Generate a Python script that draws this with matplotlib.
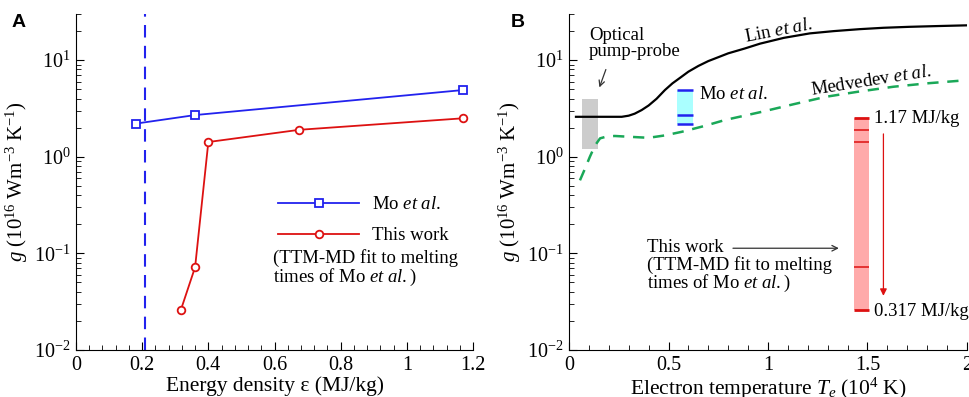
import matplotlib
matplotlib.use("Agg")
import matplotlib.pyplot as plt
from matplotlib.ticker import MultipleLocator, LogLocator, NullFormatter
import numpy as np

plt.rcParams['font.family'] = 'Liberation Serif'
plt.rcParams['mathtext.fontset'] = 'custom'
plt.rcParams['mathtext.rm'] = 'Liberation Serif'
plt.rcParams['mathtext.it'] = 'Liberation Serif:italic'

# ---------------- data ----------------
# panel A
mo_eps = [0.18, 0.36, 1.17]
mo_g = [2.2, 2.7, 4.9]
this_eps = [0.317, 0.36, 0.40, 0.675, 1.17]
this_g = [0.026, 0.072, 1.42, 1.9, 2.5]
eps_threshold = 0.21

# panel B
lin_T = [0.035, 0.1, 0.2, 0.265, 0.3, 0.33, 0.365, 0.4, 0.44, 0.482, 0.52, 0.56,
         0.6, 0.65, 0.7, 0.734, 0.8, 0.884, 0.96, 1.08, 1.21, 1.33, 1.46, 1.58,
         1.71, 1.85, 2.0]
lin_g = [2.59, 2.59, 2.59, 2.59, 2.66, 2.79, 3.04, 3.39, 3.98, 4.9, 5.75, 6.6,
         7.59, 8.7, 9.77, 10.4, 11.75, 13.2, 14.8, 17.0, 18.9, 19.95, 20.9, 21.6,
         22.1, 22.5, 22.9]
med_T = [0.055, 0.08, 0.105, 0.13, 0.156, 0.19, 0.23, 0.3, 0.4, 0.48, 0.566,
         0.68, 0.784, 0.97, 1.13, 1.29, 1.45, 1.63, 1.8, 2.0]
med_g = [0.57, 0.75, 1.0, 1.3, 1.55, 1.62, 1.64, 1.61, 1.57, 1.66, 1.81,
         2.08, 2.4, 2.92, 3.5, 4.17, 4.7, 5.3, 5.75, 6.2]

optical_T = [0.067, 0.148]
optical_g = [1.2, 4.0]
mo_box_T = [0.545, 0.625]
this_box_T = [1.43, 1.51]

blue = '#2222ee'
red = '#dd1111'
green = '#1aa858'

fig = plt.figure(figsize=(9.69, 3.97), dpi=100)
axA = fig.add_axes([76/969, 1-350/397, 397/969, 336/397])
axB = fig.add_axes([569/969, 1-350/397, 398/969, 336/397])

ylabel = r'$g$ (10$^{16}$ Wm$^{-3}$ K$^{-1}$)'


def style(ax, xmax, xminor):
    ax.set_yscale('log')
    ax.set_ylim(0.01, 30)
    ax.set_xlim(0, xmax)
    ax.xaxis.set_minor_locator(MultipleLocator(xminor))
    ax.yaxis.set_minor_locator(LogLocator(base=10, subs=np.arange(2, 10)))
    ax.yaxis.set_minor_formatter(NullFormatter())
    ax.spines['top'].set_visible(False)
    ax.spines['right'].set_visible(False)
    ax.tick_params(which='both', direction='in', labelsize=14.5, pad=4)
    ax.tick_params(which='major', length=6)
    ax.tick_params(which='minor', length=3.5)
    ax.set_ylabel(ylabel, fontsize=15)
    ax.yaxis.set_label_coords(-0.115, 0.5)


# ---------------- panel A ----------------
style(axA, 1.2, 0.04)
axA.set_xticks([0, 0.2, 0.4, 0.6, 0.8, 1, 1.2])
axA.set_xticklabels(['0', '0.2', '0.4', '0.6', '0.8', '1', '1.2'])
axA.axvline(eps_threshold, color=blue, lw=1.5, ls=(0, (6, 4)))
axA.plot(mo_eps, mo_g, '-s', color=blue, lw=1.3, ms=5.5, mfc='white', mew=1.3,
         label=r'Mo $\mathit{et\ al.}$')
axA.plot(this_eps, this_g, '-o', color=red, lw=1.3, ms=5.5, mfc='white', mew=1.3,
         label='This work')
axA.legend(loc='upper left', bbox_to_anchor=(0.51, 0.458), frameon=False,
           fontsize=13.5, handlelength=4.3, handletextpad=0.7, labelspacing=0.75,
           borderpad=0, borderaxespad=0)
axA.text(0.496, 0.30, '(TTM-MD fit to melting\ntimes of Mo $\\mathit{et\\ al.}$)',
         transform=axA.transAxes, fontsize=13.5, ha='left', va='top', linespacing=0.95)
axA.set_xlabel('Energy density ε (MJ/kg)', fontsize=15.5, labelpad=1)

# ---------------- panel B ----------------
style(axB, 2, 0.1)
axB.set_xticks([0, 0.5, 1, 1.5, 2])
axB.set_xticklabels(['0', '0.5', '1', '1.5', '2'])

axB.fill_between(optical_T, optical_g[0], optical_g[1], color='#cccccc', lw=0, zorder=1)
axB.fill_between(mo_box_T, min(mo_g), max(mo_g), color='#aaffff', lw=0, zorder=1)
axB.hlines(mo_g, mo_box_T[0], mo_box_T[1], color=blue, lw=1.8, zorder=2)
axB.fill_between(this_box_T, min(this_g), max(this_g), color='#ffaaaa', lw=0, zorder=1)
lws = [2 if g in (min(this_g), max(this_g)) else 1.1 for g in this_g]
axB.hlines(this_g, this_box_T[0], this_box_T[1], color=red, lw=lws, zorder=2)

axB.plot(lin_T, lin_g, color='black', lw=1.6, zorder=3)
axB.plot(med_T, med_g, color=green, lw=1.8, ls=(0, (4.5, 3.5)), zorder=3)

axB.text(0.1, 14.9, 'Optical\npump-probe', fontsize=13.5, ha='left', va='center',
         linespacing=0.95)
axB.annotate('', xy=(0.148, 4.9), xytext=(0.19, 8.5),
             arrowprops=dict(arrowstyle='->', color='#333333', lw=0.9))
axB.text(0.89, 15.2, r'Lin $\mathit{et\ al.}$', fontsize=13.5, rotation=11,
         rotation_mode='anchor', ha='left', va='baseline')
axB.text(1.22, 4.3, r'Medvedev $\mathit{et\ al.}$', fontsize=13.5, rotation=9,
         rotation_mode='anchor', ha='left', va='baseline')
axB.text(0.655, 4.4, r'Mo $\mathit{et\ al.}$', fontsize=13.5, ha='left', va='center')
axB.text(0.39, 0.073,
         'This work\n(TTM-MD fit to melting\ntimes of Mo $\\mathit{et\\ al.}$)',
         fontsize=13.5, ha='left', va='center', linespacing=0.95)
axB.annotate('', xy=(1.37, 0.113), xytext=(0.81, 0.113),
             arrowprops=dict(arrowstyle='->', color='#333333', lw=0.9))
axB.text(1.535, 2.5, '1.17 MJ/kg', fontsize=13.5, ha='left', va='center')
axB.text(1.535, 0.025, '0.317 MJ/kg', fontsize=13.5, ha='left', va='center')
axB.annotate('', xy=(1.58, 0.034), xytext=(1.58, 1.84),
             arrowprops=dict(arrowstyle='-|>', color=red, lw=0.9, mutation_scale=10))
axB.set_xlabel(r'Electron temperature $T_e$ (10$^4$ K)', fontsize=15.5, labelpad=1)

fig.text(12/969, 1-14/397, 'A', fontsize=14, fontweight='bold', family='Liberation Sans',
         ha='left', va='top')
fig.text(511/969, 1-14/397, 'B', fontsize=14, fontweight='bold', family='Liberation Sans',
         ha='left', va='top')

fig.savefig('out.png', dpi=100)
